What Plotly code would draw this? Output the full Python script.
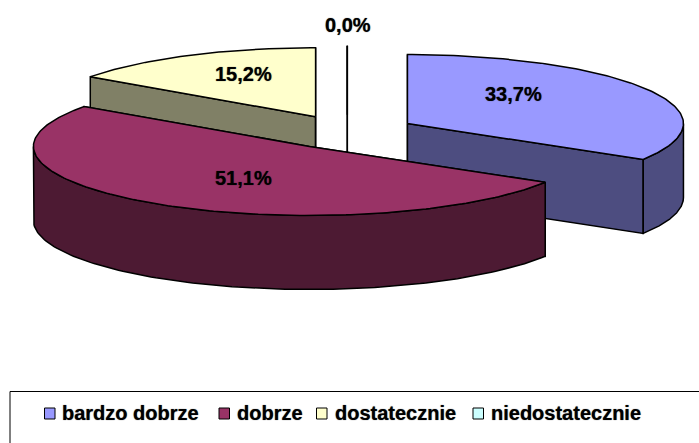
import numpy as np
import plotly.graph_objects as go

categories = ["bardzo dobrze", "dobrze", "dostatecznie", "niedostatecznie"]
values = [33.7, 51.1, 15.2, 0.0]
value_labels = ["33,7%", "51,1%", "15,2%", "0,0%"]
top_colors = ["#9999FF", "#993366", "#FFFFCC", "#CCFFFF"]
side_colors = ["#4D4D80", "#4D1A33", "#808066", "#668080"]

W, H = 699, 443
CX, CY = 347.3, 132.0      # pie centre
RX, RY = 276.0, 69.0       # ellipse radii
DEPTH = 74.0               # extrusion
EXPLODE = 0.25
LINE = dict(color="black", width=1.5)

# slice angles, clockwise from 12 o'clock
edges = np.concatenate([[0.0], np.cumsum(values)]) / sum(values) * 2 * np.pi


def pt(cx, cy, a, r=1.0):
    return cx + r * RX * np.sin(a), cy - r * RY * np.cos(a)


fig = go.Figure()


def poly(xs, ys, color):
    fig.add_trace(go.Scatter(x=list(xs), y=list(ys), mode="lines", fill="toself",
                             fillcolor=color, line=LINE, hoverinfo="skip",
                             showlegend=False))


slices = []
for i, v in enumerate(values):
    a0, a1 = edges[i], edges[i + 1]
    mid = (a0 + a1) / 2
    cx, cy = pt(CX, CY, mid, EXPLODE)
    slices.append((i, a0, a1, cx, cy))

# painter's order: empty slice, back-left, back-right, then the front slice
for i, a0, a1, cx, cy in [slices[3], slices[2], slices[0], slices[1]]:
    arc = np.linspace(a0, a1, max(2, int((a1 - a0) * 60)))
    ax, ay = pt(cx, cy, arc)
    # radial faces
    for a in (a0, a1):
        ex, ey = pt(cx, cy, a)
        poly([cx, ex, ex, cx, cx], [cy, ey, ey + DEPTH, cy + DEPTH, cy], side_colors[i])
    # visible outer wall (front half of the ellipse)
    lo, hi = max(a0, np.pi / 2), min(a1, 3 * np.pi / 2)
    if hi > lo:
        front = np.linspace(lo, hi, 120)
        fx, fy = pt(cx, cy, front)
        poly(np.r_[fx, fx[::-1], fx[0]], np.r_[fy, fy[::-1] + DEPTH, fy[0]], side_colors[i])
    # top
    poly(np.r_[cx, ax, cx], np.r_[cy, ay, cy], top_colors[i])

layout_font = dict(family="Liberation Sans, Arial, sans-serif", size=20, color="black",
                   shadow="0 0 1px rgba(0,0,0,0.7)")
annotations = []
label_pos = [(513.5, 94), (243, 177.5), (243, 74), (348, 25)]
for txt, (x, y) in zip(value_labels, label_pos):
    annotations.append(dict(x=x, y=y, xref="x", yref="y", text=f"<b>{txt}</b>",
                            showarrow=False, font=layout_font,
                            xanchor="center", yanchor="middle"))

swatch_x = [44.5, 219, 316.5, 473]
text_x = [62, 237, 335, 491]
LEG_Y = 413.5
shapes = [dict(type="rect", x0=10, x1=H + W, y0=391.5, y1=H + 20, xref="x", yref="y",
               line=dict(color="black", width=1), fillcolor="rgba(0,0,0,0)")]
for i, name in enumerate(categories):
    shapes.append(dict(type="rect", x0=swatch_x[i], x1=swatch_x[i] + 10.5,
                       y0=LEG_Y - 5.5, y1=LEG_Y + 5.5, xref="x", yref="y",
                       fillcolor=top_colors[i], line=dict(color="black", width=1)))
    annotations.append(dict(x=text_x[i], y=LEG_Y - 1, xref="x", yref="y",
                            text=f"<b>{name}</b>", showarrow=False, font=layout_font,
                            xanchor="left", yanchor="middle", xshift=-2))

fig.update_layout(
    width=W, height=H, margin=dict(l=0, r=0, t=0, b=0),
    paper_bgcolor="white", plot_bgcolor="white", showlegend=False,
    xaxis=dict(range=[0, W], visible=False, fixedrange=True),
    yaxis=dict(range=[H, 0], visible=False, fixedrange=True),
    annotations=annotations, shapes=shapes,
)
fig.write_html("out.html", config={"displayModeBar": False},
               post_script="document.body.style.margin='0';document.documentElement.style.overflow='hidden';")
